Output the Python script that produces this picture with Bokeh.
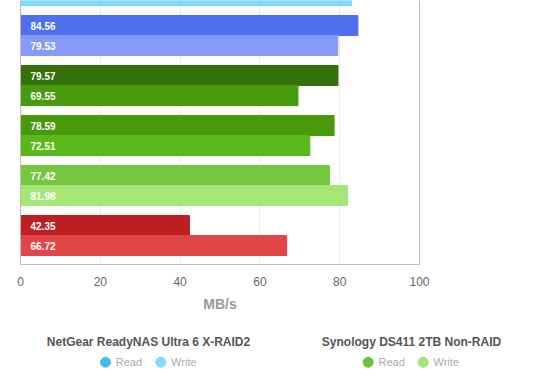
from bokeh.plotting import figure
from bokeh.layouts import column
from bokeh.models import Range1d, FixedTicker, ColumnDataSource, Span
from bokeh.core.properties import value
from bokeh.embed import file_html
from bokeh.resources import INLINE

# Visible groups, top to bottom
read_values = [84.56, 79.57, 78.59, 77.42, 42.35]
write_values = [79.53, 69.55, 72.51, 81.98, 66.72]
read_colors = ["#4F70EE", "#35700A", "#489A0D", "#74C73C", "#BD2023"]
write_colors = ["#8499F8", "#489A0D", "#5BB81A", "#A6E676", "#E04548"]
# Group above the visible area: only the bottom edge of its write bar shows
partial_write = [83.0]
partial_color = ["#7BDCFF"]

x_ticks = [0, 20, 40, 60, 80, 100]
axis_title = "MB/s"
legend_titles = ["NetGear ReadyNAS Ultra 6 X-RAID2", "Synology DS411 2TB Non-RAID"]
legend_items = ["Read", "Write"]
legend_dot_colors = [["#4BB8EE", "#7EDAFE"], ["#6CC237", "#A3E574"]]

FONT = "Liberation Sans"
W, H_MAIN, H_LEG = 550, 290, 100
PX_PER_UNIT = 3.99
n = len(read_values)
centers = [n - 1 - i for i in range(n)]

bars = ColumnDataSource(dict(
    y=[c + 0.2 for c in centers] + [c - 0.2 for c in centers] + [n - 0.2],
    v=read_values + write_values + partial_write,
    color=read_colors + write_colors + partial_color,
    label=[f"{v:.2f}" for v in read_values + write_values] + [""],
))

x0 = -20 / PX_PER_UNIT
p = figure(width=W, height=H_MAIN,
           x_range=Range1d(x0, x0 + W / PX_PER_UNIT), y_range=Range1d(-0.58, 4.70),
           output_backend="svg", toolbar_location=None,
           min_border_left=0, min_border_right=0, min_border_top=0, min_border_bottom=26)
p.hbar(y="y", left=0, right="v", height=0.4, color="color", source=bars)
p.text(x=2.5, y="y", text="label", source=bars, text_color="white",
       text_font=value(FONT), text_font_size="10px", text_font_style="bold",
       text_align="left", text_baseline="middle")

for loc in (x_ticks[0], x_ticks[-1]):
    p.add_layout(Span(location=loc, dimension="height", line_color="#bbbbbb", line_width=1))

p.yaxis.visible = False
p.ygrid.visible = False
p.xgrid.grid_line_color = "#ececec"
p.outline_line_color = None
p.xaxis.ticker = FixedTicker(ticks=x_ticks)
p.xaxis.bounds = (x_ticks[0], x_ticks[-1])
p.xaxis.axis_line_color = "#bbbbbb"
p.xaxis.major_tick_line_color = None
p.xaxis.minor_tick_line_color = None
p.xaxis.major_label_standoff = 6
p.xaxis.major_label_text_font = FONT
p.xaxis.major_label_text_font_size = "12px"
p.xaxis.major_label_text_color = "#666666"

# lower panel: axis title and the two series legends (page pixel coordinates)
leg = figure(width=W, height=H_LEG, x_range=Range1d(0, W), y_range=Range1d(H_MAIN + H_LEG, H_MAIN),
             output_backend="svg", toolbar_location=None,
             min_border_left=0, min_border_right=0, min_border_top=0, min_border_bottom=0)
leg.axis.visible = False
leg.grid.visible = False
leg.outline_line_color = None

leg.text(x=[219.5], y=[303.6], text=[axis_title], text_font=value(FONT),
         text_font_size="14px", text_font_style="bold", text_color="#999999",
         text_align="center", text_baseline="middle")

title_x = [148, 411]
dot_x = [[105, 160.3], [367.7, 422.7]]
leg.text(x=title_x, y=[341, 341], text=legend_titles, text_font=value(FONT),
         text_font_size="12px", text_font_style="bold", text_color="#555555",
         text_align="center", text_baseline="middle")
dx, dy, dc, tx, tt = [], [], [], [], []
for g in range(2):
    for k in range(2):
        dx.append(dot_x[g][k]); dy.append(361.7); dc.append(legend_dot_colors[g][k])
        tx.append(dot_x[g][k] + 10.3); tt.append(legend_items[k])
leg.scatter(x=dx, y=dy, size=10, color=dc, marker="circle")
leg.text(x=tx, y=dy, text=tt, text_font=value(FONT), text_font_size="11px",
         text_color="#aaaaaa", text_align="left", text_baseline="middle")

layout = column(p, leg)
open("out.html", "w").write(file_html(layout, INLINE))
